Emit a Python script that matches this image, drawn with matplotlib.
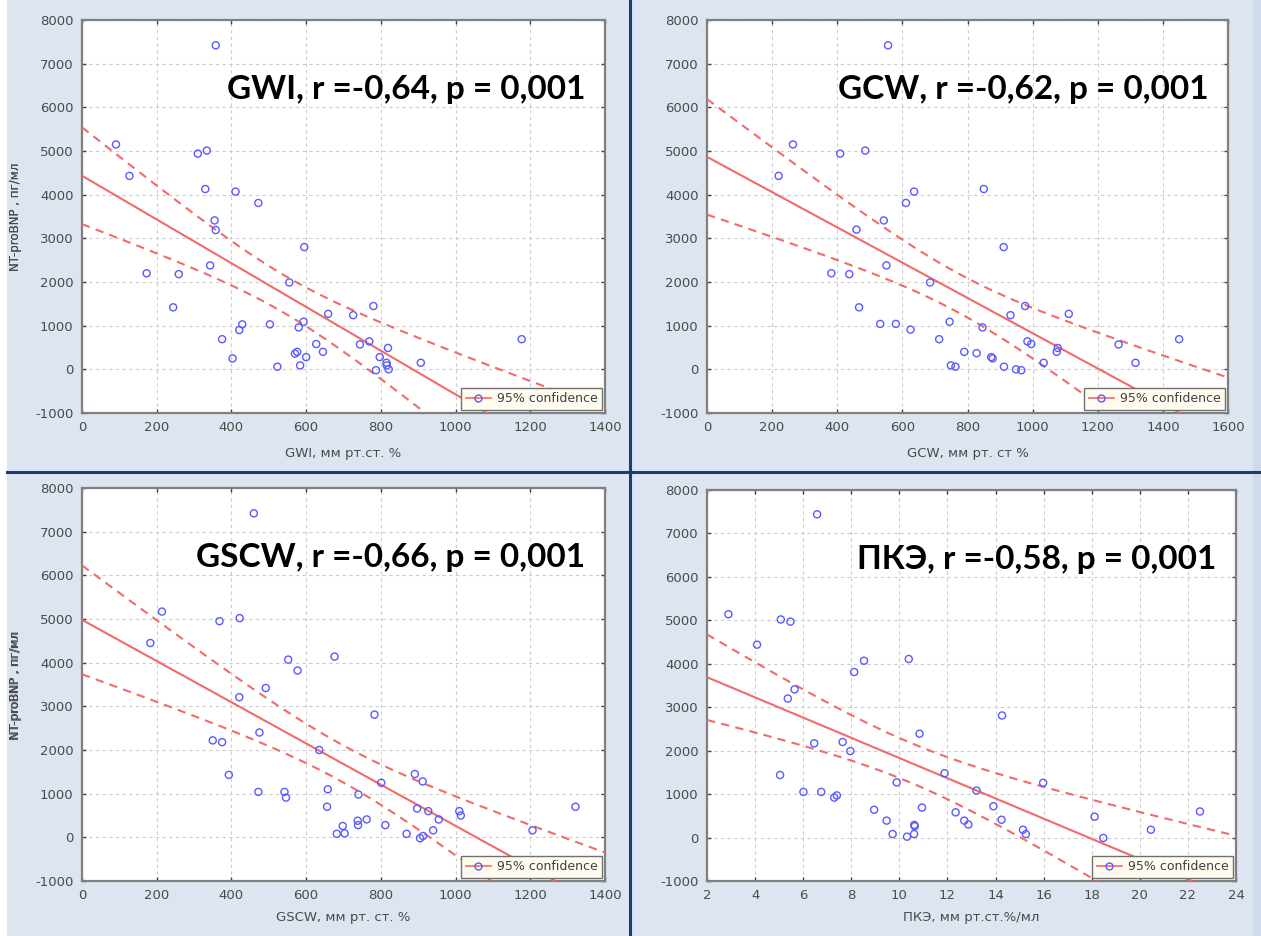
import numpy as np
import matplotlib
matplotlib.use("Agg")
import matplotlib.pyplot as plt
from matplotlib.lines import Line2D

plt.rcParams["axes.unicode_minus"] = False

# ---------------- data ----------------
gwi_x = [91, 127, 358, 310, 334, 330, 411, 472, 355, 358, 595, 343, 173, 259, 555, 244,
         780, 659, 726, 429, 503, 593, 580, 421, 375, 769, 744, 627, 819, 576, 570, 645,
         600, 797, 403, 815, 907, 523, 584, 787, 821, 816, 1177]
gwi_y = [5150, 4430, 7420, 4940, 5010, 4130, 4070, 3810, 3410, 3190, 2800, 2380, 2200, 2180, 1990, 1420,
         1450, 1270, 1240, 1030, 1030, 1090, 960, 900, 690, 640, 570, 580, 490, 400, 360, 400,
         280, 280, 250, 150, 150, 60, 90, -20, 0, 90, 690]

gcw_x = [556, 264, 220, 409, 486, 850, 636, 611, 543, 459, 911, 551, 382, 437, 685, 467,
         977, 932, 1111, 532, 580, 745, 846, 625, 713, 984, 996, 1264, 1077, 1074, 790, 828,
         873, 877, 1034, 1316, 749, 763, 912, 949, 965, 1450]
gcw_y = [7420, 5150, 4430, 4940, 5010, 4130, 4070, 3810, 3410, 3200, 2800, 2380, 2200, 2180, 1990, 1420,
         1450, 1240, 1270, 1040, 1040, 1090, 960, 910, 690, 640, 580, 570, 490, 400, 400, 370,
         280, 250, 150, 150, 90, 60, 60, 0, -20, 690]

gscw_x = [460, 214, 183, 368, 422, 676, 552, 577, 492, 421, 783, 475, 350, 375, 635, 393,
          891, 912, 801, 472, 542, 546, 658, 740, 656, 897, 927, 1010, 1014, 955, 762, 738,
          698, 739, 812, 940, 1206, 682, 703, 869, 905, 913, 1321]
gscw_y = [7420, 5170, 4450, 4950, 5020, 4140, 4070, 3820, 3420, 3210, 2810, 2400, 2220, 2180, 2000, 1430,
          1450, 1280, 1250, 1040, 1040, 910, 1100, 980, 700, 660, 600, 600, 500, 410, 410, 380,
          260, 280, 280, 160, 160, 80, 90, 80, -20, 30, 700]

pke_x = [6.58, 2.89, 4.08, 5.07, 5.47, 10.39, 8.53, 8.12, 5.64, 5.36, 14.27, 10.84, 7.64, 6.46, 7.96, 5.04,
         11.88, 15.98, 9.89, 6.01, 6.75, 13.21, 7.29, 7.40, 10.94, 13.91, 8.95, 12.34, 22.50, 18.12, 9.47, 12.70,
         14.25, 10.62, 10.64, 12.87, 15.14, 20.46, 9.72, 10.61, 10.32, 15.26, 18.48]
pke_y = [7440, 5140, 4440, 5020, 4970, 4110, 4070, 3810, 3410, 3200, 2810, 2390, 2200, 2170, 1990, 1440,
         1480, 1260, 1270, 1050, 1050, 1080, 920, 970, 690, 720, 640, 580, 600, 480, 390, 390,
         410, 290, 260, 300, 180, 180, 80, 80, 20, 80, -10]

titles = ["GWI, r =-0,64, p = 0,001", "GCW, r =-0,62, p = 0,001",
          "GSCW, r =-0,66, p = 0,001", "ПКЭ, r =-0,58, p = 0,001"]
xlabels = ["GWI, мм рт.ст. %", "GCW, мм рт. ст %", "GSCW, мм рт. ст. %", "ПКЭ, мм рт.ст.%/мл"]
ylabel = "NT-proBNP , пг/мл"
legend_label = "95% confidence"
xlims = [(0, 1400), (0, 1600), (0, 1400), (2, 24)]
xticks = [np.arange(0, 1401, 200), np.arange(0, 1601, 200), np.arange(0, 1401, 200), np.arange(2, 25, 2)]
yticks = np.arange(-1000, 8001, 1000)
T_CRIT = 2.02  # t(0.975, df~41)

datasets = [(gwi_x, gwi_y), (gcw_x, gcw_y), (gscw_x, gscw_y), (pke_x, pke_y)]

# ---------------- style ----------------
BG = "#dce5f0"
RED = "#f26a6a"
BLUE = "#5a5aff"
TICKC = "#4a4a4a"

W, H = 1261, 936
fig = plt.figure(figsize=(W / 100, H / 100), dpi=100, facecolor=BG)

# white strip on left, slightly darker strip on right
fig.patches.append(plt.Rectangle((0, 0), 7 / W, 1, transform=fig.transFigure,
                                 facecolor="white", edgecolor="none", zorder=0))
fig.patches.append(plt.Rectangle((1 - 8 / W, 0), 8 / W, 1, transform=fig.transFigure,
                                 facecolor="#cfdbea", edgecolor="none", zorder=0))
# separators
fig.add_artist(Line2D([630 / W, 630 / W], [0, 1], transform=fig.transFigure,
                      color="#1f3a78", lw=2.2))
fig.add_artist(Line2D([7 / W, 1], [1 - 472 / H, 1 - 472 / H], transform=fig.transFigure,
                      color="#1f3a78", lw=2.2))

# axes boxes in pixel coordinates (left, right, top, bottom)
boxes = [(82, 605, 20, 413), (707, 1228, 20, 413), (82, 605, 488, 881), (707, 1236, 490, 881)]
xlabel_y = [453, 453, 918, 918]

for i, ((x, y), (l, r, t, b)) in enumerate(zip(datasets, boxes)):
    ax = fig.add_axes([l / W, 1 - b / H, (r - l) / W, (b - t) / H])
    ax.set_facecolor("white")
    x = np.asarray(x, float)
    y = np.asarray(y, float)
    x0, x1 = xlims[i]
    ax.set_xlim(x0, x1)
    ax.set_ylim(-1000, 8000)
    ax.set_xticks(xticks[i])
    ax.set_yticks(yticks)
    ax.grid(True, color="#cccccc", ls=(0, (3, 3)), lw=0.8)
    ax.set_axisbelow(True)
    for s in ax.spines.values():
        s.set_color("#808080")
        s.set_linewidth(1.6)
    ax.tick_params(direction="in", length=3, width=1, color="#404040",
                   labelsize=9.5, labelcolor=TICKC, top=True, right=True, pad=6)

    # regression and confidence band
    n = len(x)
    slope, icpt = np.polyfit(x, y, 1)
    resid = y - (icpt + slope * x)
    s_err = np.sqrt(np.sum(resid ** 2) / (n - 2))
    xm = x.mean()
    sxx = np.sum((x - xm) ** 2)
    xs = np.linspace(x0, x1, 300)
    yfit = icpt + slope * xs
    half = T_CRIT * s_err * np.sqrt(1 / n + (xs - xm) ** 2 / sxx)
    ax.plot(xs, yfit, color=RED, lw=1.5, zorder=3)
    ax.plot(xs, yfit + half, color=RED, lw=1.5, ls=(0, (4, 3)), zorder=3)
    ax.plot(xs, yfit - half, color=RED, lw=1.5, ls=(0, (4, 3)), zorder=3)

    ax.scatter(x, y, s=26, facecolors="none", edgecolors=BLUE, linewidths=1.0, zorder=4)

    ax.text(0.962, 6400, titles[i], transform=ax.get_yaxis_transform(), ha="right",
            va="center", fontsize=24, fontweight="bold", family=["Lato", "DejaVu Sans"],
            color="black", zorder=6)

    handle = Line2D([], [], color=RED, lw=1.2, marker="o", mfc="none", mec=BLUE, ms=5)
    leg = ax.legend([handle], [legend_label], loc="lower right", fontsize=9,
                    frameon=True, fancybox=False, borderaxespad=0.25, handlelength=2.0,
                    borderpad=0.35, handletextpad=0.5, labelcolor="#404040")
    leg.get_frame().set_facecolor("#fffbee")
    leg.get_frame().set_edgecolor("#707070")
    leg.get_frame().set_alpha(1)
    leg.set_zorder(7)

    ax.set_ylabel(ylabel, fontsize=8.5, color=TICKC)
    ax.yaxis.set_label_coords(-(l - 22) / (r - l), 0.5)
    fig.text((l + r) / 2 / W, 1 - xlabel_y[i] / H, xlabels[i], ha="center", va="center",
             fontsize=9.5, color=TICKC)

fig.savefig("out.png", dpi=100, facecolor=BG)
